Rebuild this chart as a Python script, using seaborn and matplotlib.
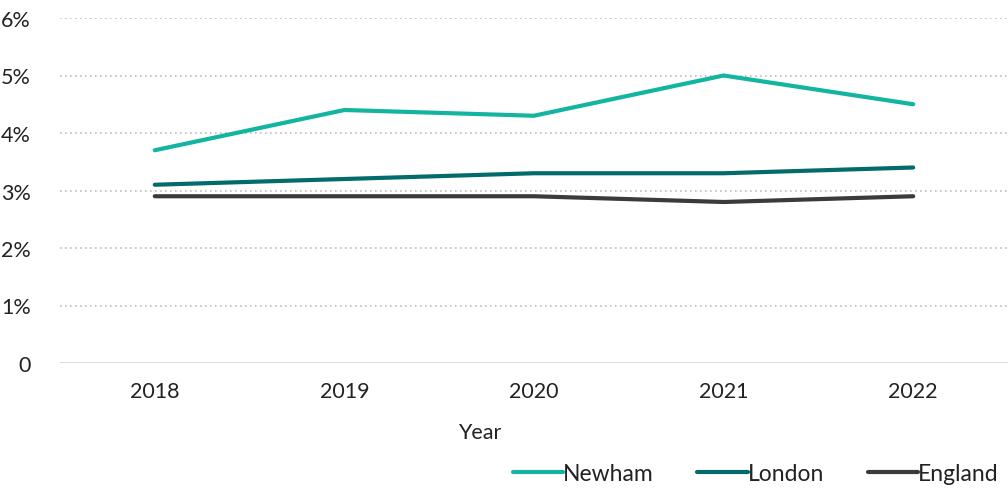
import matplotlib
matplotlib.use("Agg")
import matplotlib.pyplot as plt
import seaborn as sns
import pandas as pd
from matplotlib.ticker import FuncFormatter

years = ["2018", "2019", "2020", "2021", "2022"]
newham = [3.7, 4.4, 4.3, 5.0, 4.5]
london = [3.1, 3.2, 3.3, 3.3, 3.4]
england = [2.9, 2.9, 2.9, 2.8, 2.9]
areas = ["Newham", "London", "England"]
colors = ["#13b5a1", "#036b6b", "#3b3b3b"]
y_ticks = [0, 1, 2, 3, 4, 5, 6]

df = pd.DataFrame({
    "Year": years * 3,
    "Rate": newham + london + england,
    "Area": [a for a in areas for _ in years],
})

sns.set_theme(style="white")
plt.rcParams["font.family"] = ["Lato", "DejaVu Sans"]
text_color = "#222222"

fig = plt.figure(figsize=(10.08, 4.89), dpi=100)
ax = fig.add_axes([60 / 1008, 1 - 364 / 489, 948 / 1008, 345 / 489])

sns.lineplot(data=df, x="Year", y="Rate", hue="Area", hue_order=areas,
             palette=colors, linewidth=3, ax=ax, sort=False,
             solid_capstyle="round")

ax.set_xlim(-0.5, 4.5)
ax.set_ylim(0, 6)
ax.set_yticks(y_ticks)
ax.yaxis.set_major_formatter(FuncFormatter(lambda v, _: "0" if v == 0 else f"{v:.0f}%"))

for v in y_ticks[1:]:
    ax.axhline(v, color="#bdbdbd", linestyle=(0, (1, 2)), linewidth=1.2, zorder=0)
ax.axhline(0, color="#d0d0d0", linewidth=1.8, zorder=0)

for s in ax.spines.values():
    s.set_visible(False)

ax.tick_params(axis="both", length=0, labelsize=15.5, colors=text_color)
ax.tick_params(axis="y", pad=21)
ax.tick_params(axis="x", pad=13)
ax.set_ylabel("")
ax.set_xlabel("Year", fontsize=15.5, color=text_color)
ax.xaxis.set_label_coords(420 / 948, -0.17)

handles, labels = ax.get_legend_handles_labels()
ax.legend(handles, labels, loc="lower right", bbox_to_anchor=(1.0, -0.01),
          bbox_transform=fig.transFigure, ncol=3, frameon=False, fontsize=16.5,
          handlelength=2.2, handletextpad=0.0, columnspacing=1.9,
          labelcolor=text_color, borderaxespad=0.0)

fig.savefig("out.png", dpi=100)
